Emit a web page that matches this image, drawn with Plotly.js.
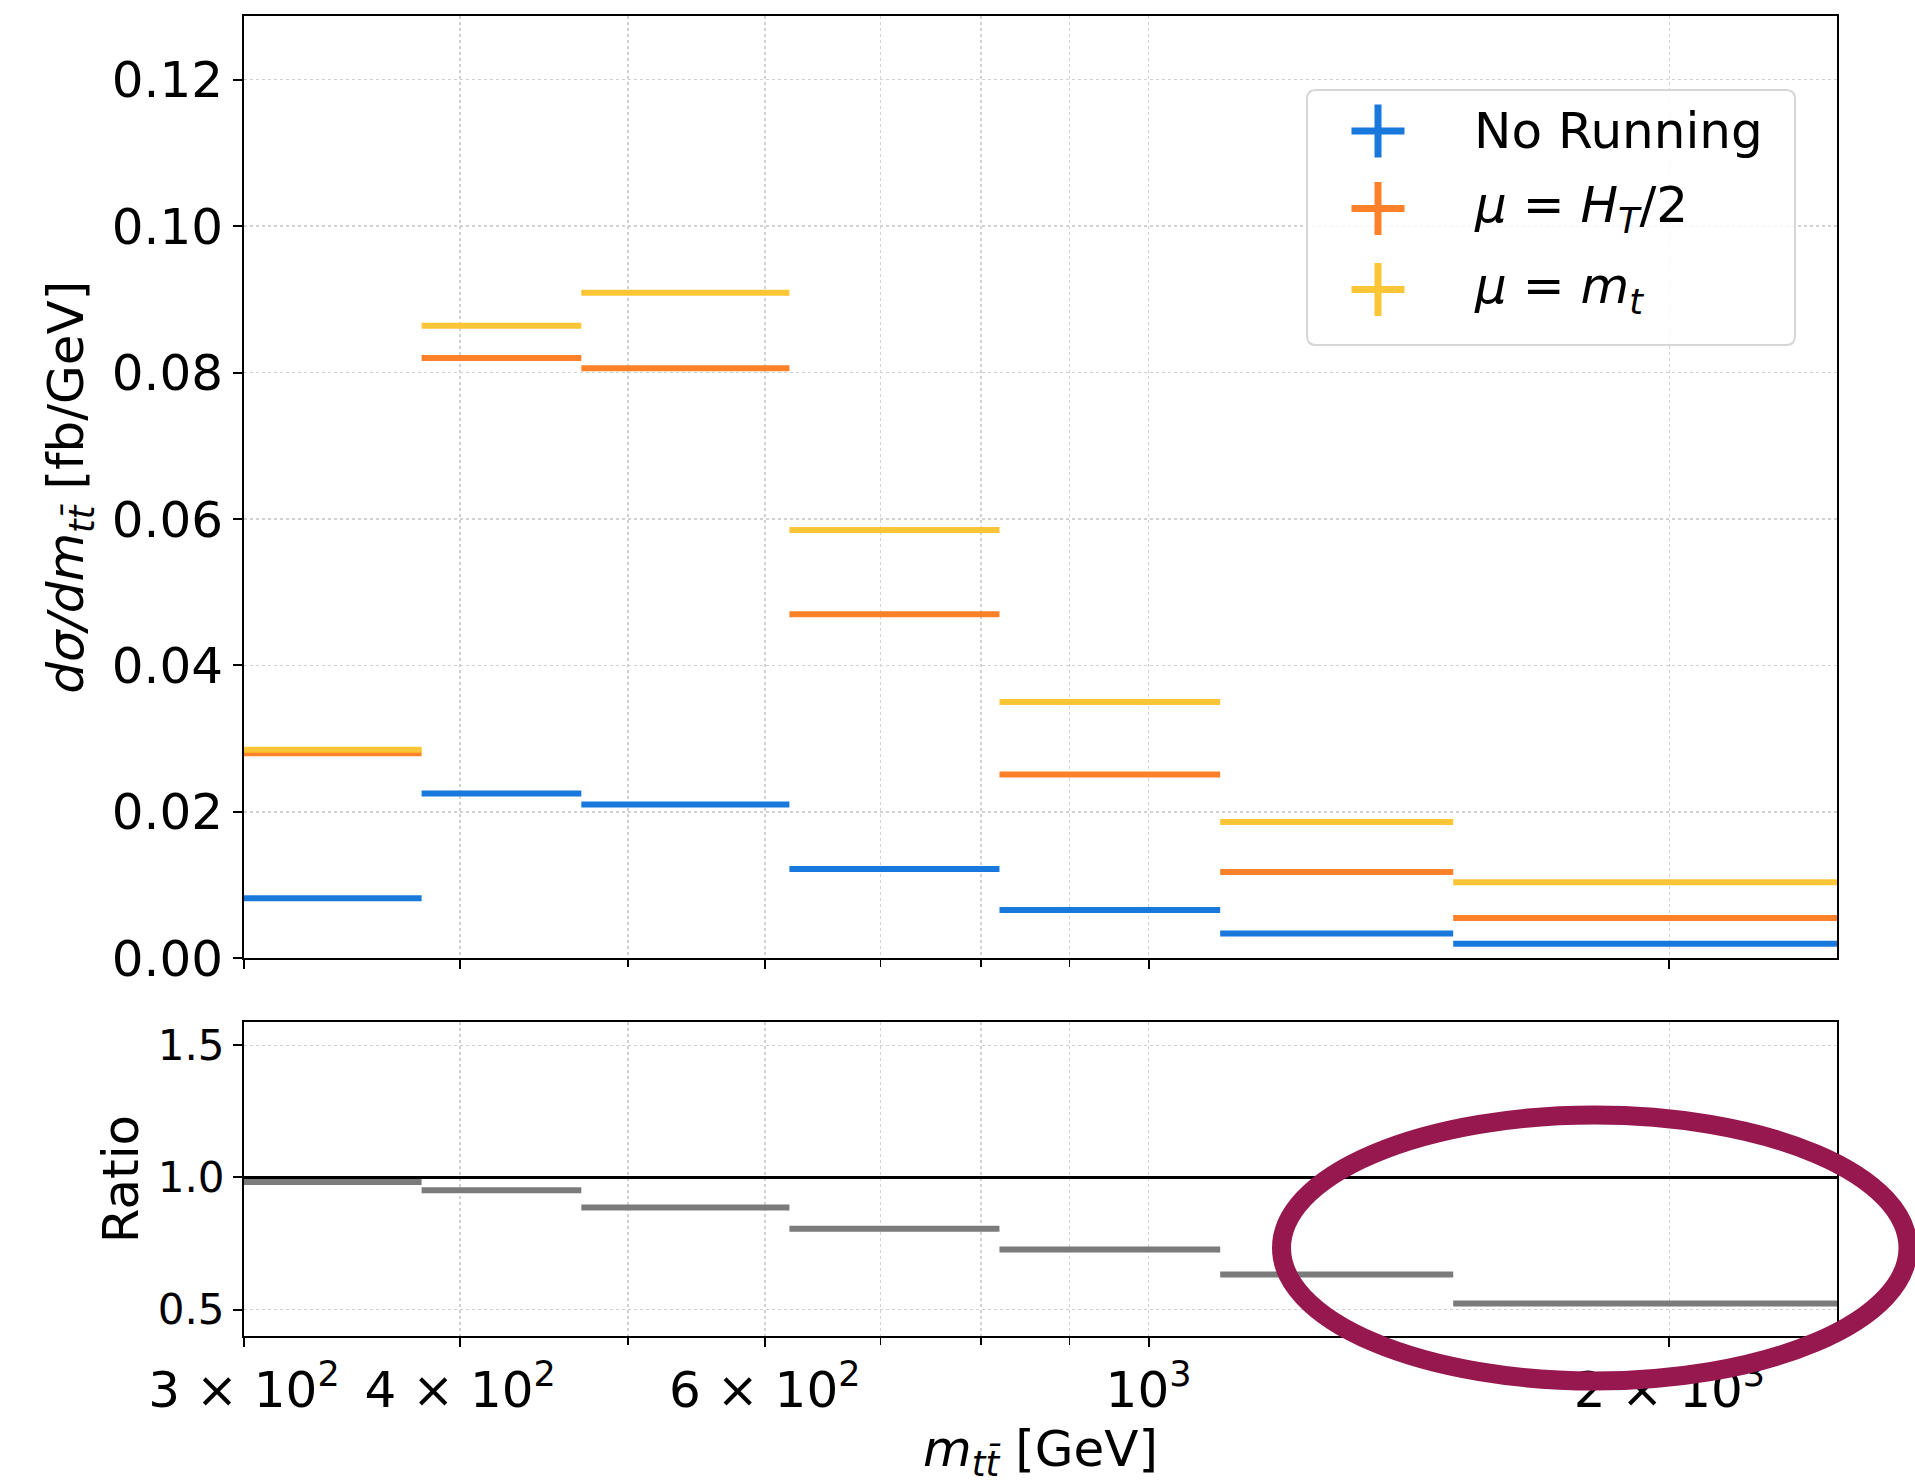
<!DOCTYPE html>
<html><head><meta charset="utf-8">
<script src="https://cdn.plot.ly/plotly-3.0.1.min.js"></script>
<style>html,body{margin:0;padding:0;background:#fff}</style>
</head><body><div id="chart" style="width:1915px;height:1484px"></div>
<script>
// ---- data ----
const binEdges = [300, 380, 470, 620, 820, 1100, 1500, 2500];
const seriesNames = ['No Running', 'μ = H_T/2', 'μ = m_t'];
const noRunning = [0.0082, 0.0225, 0.0210, 0.0122, 0.0066, 0.0034, 0.0020];
const htHalf   = [0.0280, 0.0820, 0.0806, 0.0470, 0.0251, 0.0118, 0.0055];
const muMt     = [0.0285, 0.0864, 0.0909, 0.0585, 0.0350, 0.0186, 0.0104];
const ratio    = [0.983, 0.951, 0.886, 0.806, 0.727, 0.633, 0.523];
const ratioRef = 1.0;
const xTickVals = [300, 400, 600, 1000, 2000];
const xTickText = ['3 × 10<sup>2</sup>', '4 × 10<sup>2</sup>', '6 × 10<sup>2</sup>', '10<sup>3</sup>', '2 × 10<sup>3</sup>'];
const xMinorVals = [500, 700, 800, 900];
const yTopTicks = [0, 0.02, 0.04, 0.06, 0.08, 0.10, 0.12];
const yTopText = ['0.00', '0.02', '0.04', '0.06', '0.08', '0.10', '0.12'];
const yRatioTicks = [0.5, 1.0, 1.5];
const yRatioText = ['0.5', '1.0', '1.5'];
const legendLabels = ['No Running', '<i>μ</i> = <i>H<sub>T</sub></i>/2', '<i>μ</i> = <i>m<sub>t</sub></i>'];

// ---- styles ----
const colors = ['#1878dc', '#fd8128', '#fcc535'];
const ratioColor = '#7b7b7b';
const FONT = 'DejaVu Sans, sans-serif';

function steps(vals) {
  const x = [], y = [];
  vals.forEach((v, i) => { x.push(binEdges[i], binEdges[i + 1], null); y.push(v, v, null); });
  return {x, y};
}

const traces = [];
[noRunning, htHalf, muMt].forEach((vals, k) => {
  const s = steps(vals);
  traces.push({type: 'scatter', mode: 'lines', x: s.x, y: s.y, xaxis: 'x', yaxis: 'y',
    name: seriesNames[k], showlegend: false, line: {color: colors[k], width: 6}, hoverinfo: 'skip'});
});
traces.push({type: 'scatter', mode: 'lines', x: [binEdges[0], binEdges[binEdges.length - 1]], y: [ratioRef, ratioRef],
  xaxis: 'x2', yaxis: 'y2', showlegend: false, line: {color: '#000', width: 3}, hoverinfo: 'skip'});
const rs = steps(ratio);
traces.push({type: 'scatter', mode: 'lines', x: rs.x, y: rs.y, xaxis: 'x2', yaxis: 'y2', name: 'Ratio',
  showlegend: false, line: {color: ratioColor, width: 6}, hoverinfo: 'skip'});

// ---- geometry helpers (pixel -> paper) ----
const L = 244, R = 1837, T = 16, B = 1336;
const px2x = p => (p - L) / (R - L);
const py2y = p => (B - p) / (B - T);

const gridCommon = {showgrid: true, gridcolor: '#d2d2d2', gridwidth: 1.5, griddash: 'dot',
  showline: true, linecolor: '#000', linewidth: 2, mirror: true, ticks: 'outside', ticklen: 9,
  tickwidth: 2, tickcolor: '#000', zeroline: false};
const xMinor = {tickmode: 'array', tickvals: xMinorVals, ticks: 'outside', ticklen: 7, tickwidth: 1.5,
  tickcolor: '#000', showgrid: true, gridcolor: '#d2d2d2', gridwidth: 1.5, griddash: 'dot'};

const xr = [Math.log10(binEdges[0]), Math.log10(binEdges[binEdges.length - 1])];

const shapes = [];
// legend box with rounded corners
const bx0 = px2x(1307), bx1 = px2x(1795), by0 = py2y(345), by1 = py2y(90);
const rx = 9 / (R - L), ry = 9 / (B - T);
shapes.push({type: 'path', xref: 'paper', yref: 'paper', layer: 'above',
  path: `M ${bx0 + rx},${by0} L ${bx1 - rx},${by0} Q ${bx1},${by0} ${bx1},${by0 + ry} L ${bx1},${by1 - ry} Q ${bx1},${by1} ${bx1 - rx},${by1} L ${bx0 + rx},${by1} Q ${bx0},${by1} ${bx0},${by1 - ry} L ${bx0},${by0 + ry} Q ${bx0},${by0} ${bx0 + rx},${by0} Z`,
  line: {color: '#d6d6d6', width: 2}, fillcolor: 'rgba(255,255,255,0.85)'});
const legY = [131, 208.5, 289.5];
const legendAnn = [];
legY.forEach((cy, k) => {
  shapes.push({type: 'line', xref: 'paper', yref: 'paper', layer: 'above',
    x0: px2x(1351.5), x1: px2x(1404.5), y0: py2y(cy), y1: py2y(cy), line: {color: colors[k], width: 7}});
  shapes.push({type: 'line', xref: 'paper', yref: 'paper', layer: 'above',
    x0: px2x(1378), x1: px2x(1378), y0: py2y(cy - 26.5), y1: py2y(cy + 26.5), line: {color: colors[k], width: 7}});
  legendAnn.push({xref: 'paper', yref: 'paper', x: px2x(1472), y: py2y(cy), xanchor: 'left', yanchor: 'middle',
    text: legendLabels[k], showarrow: false, font: {family: FONT, size: 50, color: '#000'}});
});
// highlight ellipse
shapes.push({type: 'circle', xref: 'paper', yref: 'paper', layer: 'above',
  x0: px2x(1281.5), x1: px2x(1908), y0: py2y(1381), y1: py2y(1115),
  line: {color: '#96184f', width: 19}, fillcolor: 'rgba(0,0,0,0)'});

const layout = {
  width: 1915, height: 1484,
  margin: {l: L, r: 1915 - R, t: T, b: 1484 - B, pad: 0},
  paper_bgcolor: '#fff', plot_bgcolor: '#fff',
  font: {family: FONT, color: '#000', size: 50},
  showlegend: false,
  xaxis: Object.assign({}, gridCommon, {type: 'log', range: xr, domain: [0, 1], anchor: 'y',
    tickmode: 'array', tickvals: xTickVals, ticktext: xTickText, showticklabels: false, minor: xMinor}),
  yaxis: Object.assign({}, gridCommon, {domain: [(B - 958.3) / (B - T), 1], anchor: 'x', range: [0, 0.1287],
    tickmode: 'array', tickvals: yTopTicks, ticktext: yTopText, tickfont: {size: 50},
    title: {text: '<i>dσ/dm</i><sub><i>tt̄</i></sub> [fb/GeV]', font: {size: 50}, standoff: 12}}),
  xaxis2: Object.assign({}, gridCommon, {type: 'log', range: xr, domain: [0, 1], anchor: 'y2',
    tickmode: 'array', tickvals: xTickVals, ticktext: xTickText, tickfont: {size: 50}, minor: xMinor,
    title: {text: '<i>m</i><sub><i>tt̄</i></sub> [GeV]', font: {size: 50}, standoff: 24}}),
  yaxis2: Object.assign({}, gridCommon, {domain: [0, (B - 1022) / (B - T)], anchor: 'x2', range: [0.4, 1.588],
    tickmode: 'array', tickvals: yRatioTicks, ticktext: yRatioText, tickfont: {size: 42},
    title: {text: 'Ratio', font: {size: 50}, standoff: 3}}),
  shapes: shapes,
  annotations: legendAnn
};

Plotly.newPlot('chart', traces, layout, {staticPlot: true, displayModeBar: false});
</script></body></html>
